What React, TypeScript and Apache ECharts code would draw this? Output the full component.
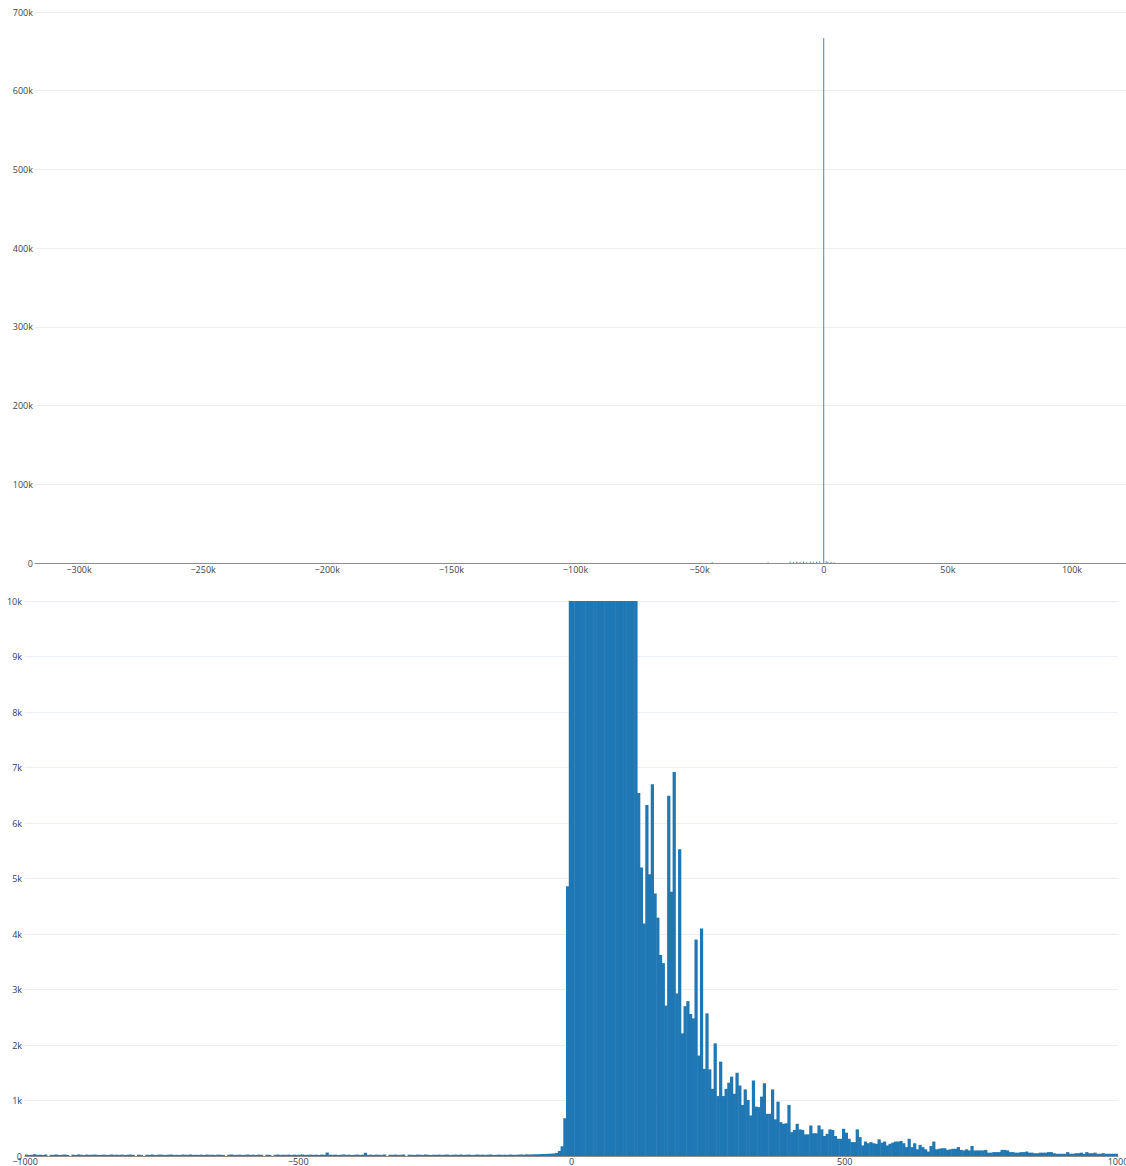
import React, { useEffect, useRef } from "react";
import * as echarts from "echarts";

// ---------- Top histogram (full range) ----------
const topBinWidth = 340;
const topBinLefts = [-45100, -22600, -13700, -12400, -11000, -9700, -8300, -7000, -5600, -4400, -3100, -1800, -170, 800, 1500, 2800, 4000];
const topCounts = [900, 1100, 1500, 1200, 1800, 1400, 1600, 1300, 1900, 1500, 1700, 2100, 667000, 2300, 1600, 1300, 1000];
const topXMin = -317724;
const topXMax = 121752;
const topYMax = 700000;

// ---------- Bottom histogram (zoomed -1000..1000) ----------
const bottomBinStart = -1000;
const bottomBinWidth = 5;
// bins from -1000 to -30
const bottomLowCounts = [
  25, 18, 22, 30, 20, 24, 19, 27, 0, 21,
  23, 26, 18, 22, 25, 20, 0, 24, 19, 28,
  22, 17, 25, 21, 23, 26, 20, 18, 24, 22,
  19, 27, 21, 23, 20, 25, 18, 22, 26, 21,
  0, 24, 19, 0, 23, 20, 27, 18, 22, 25,
  21, 19, 24, 26, 20, 22, 18, 25, 23, 21,
  27, 19, 22, 20, 24, 18, 26, 21, 23, 19,
  25, 22, 20, 0, 23, 27, 19, 21, 24, 18,
  22, 26, 20, 23, 19, 25, 21, 0, 24, 20,
  0, 22, 26, 19, 23, 21, 25, 18, 24, 20,
  23, 27, 19, 22, 25, 20, 24, 18, 26, 21,
  62, 23, 20, 25, 19, 22, 27, 21, 24, 18,
  22, 26, 20, 23, 58, 21, 25, 19, 24, 22,
  20, 27, 0, 23, 21, 25, 19, 22, 26, 0,
  24, 21, 19, 25, 23, 20, 27, 22, 18, 24,
  21, 25, 20, 23, 26, 19, 22, 24, 21, 27,
  20, 23, 25, 19, 22, 26, 21, 24, 20, 23,
  27, 19, 22, 25, 21, 24, 20, 26, 23, 22,
  25, 28, 24, 30, 27, 29, 32, 30, 34, 36,
  38, 40, 42, 45,
];
// bins from -30 to 125 (peak, partly above the 10k axis limit)
const bottomPeakCounts = [
  55, 90, 175, 680, 4860,
  27000, 31000, 30500, 29500, 28000, 27000, 26500, 25500, 25000, 24500,
  24000, 23500, 23000, 22500, 22000, 21500, 21000, 20500, 19500, 18500,
  17500, 16000, 14500, 13000, 11500,
];
// bins from 120 to 1000
const bottomTailCounts = [
  6540, 5200, 4190, 6325, 5075, 6700, 4730, 4295, 3620, 3475,
  2710, 6490, 4760, 6920, 2930, 5525, 2210, 2700, 2790, 2560,
  2480, 3900, 1810, 4100, 1570, 2570, 1560, 1210, 2030, 1080,
  1700, 1080, 1210, 1320, 1430, 1120, 1500, 1270, 920, 1200,
  1010, 730, 1360, 890, 880, 1070, 1310, 760, 760, 1200,
  660, 980, 610, 580, 590, 920, 430, 470, 580, 480,
  470, 390, 390, 550, 410, 410, 550, 480, 360, 400,
  480, 470, 360, 310, 310, 490, 420, 310, 250, 250,
  480, 340, 190, 260, 230, 250, 230, 220, 300, 240,
  260, 190, 220, 240, 260, 260, 270, 230, 160, 310,
  160, 230, 120, 200, 160, 120, 80, 180, 260, 120,
  130, 140, 140, 110, 120, 130, 130, 160, 110, 100,
  120, 100, 180, 100, 100, 100, 100, 110, 60, 60,
  70, 70, 70, 110, 110, 100, 70, 70, 60, 60,
  70, 70, 80, 60, 60, 50, 50, 60, 60, 60,
  70, 70, 50, 40, 40, 40, 40, 70, 40, 40,
  50, 50, 60, 40, 70, 50, 50, 60, 40, 40,
  50, 40, 40, 40, 40, 40,
];
const bottomXMin = -1000;
const bottomXMax = 1000;
const bottomYMax = 10000;

const BAR_COLOR = "#1f77b4";
const FONT = '"Open Sans", verdana, arial, sans-serif';

function kFormat(v: number): string {
  if (v === 0) return "0";
  const a = Math.abs(v);
  const s = a >= 1000 ? a / 1000 + "k" : String(a);
  return (v < 0 ? "\u2212" : "") + s;
}
function plainFormat(v: number): string {
  if (v === 0) return "0";
  return (v < 0 ? "\u2212" : "") + Math.abs(v);
}

function makeRenderer(overlap: number) {
  return (params: any, api: any) => {
    const x0 = api.value(0);
    const x1 = api.value(1);
    const y = api.value(2);
    const p0 = api.coord([x0, y]);
    const p1 = api.coord([x1, 0]);
    const cs = params.coordSys;
    const rect = echarts.graphic.clipRectByRect(
      { x: p0[0], y: p0[1], width: p1[0] - p0[0] + overlap, height: p1[1] - p0[1] },
      { x: cs.x, y: cs.y, width: cs.width, height: cs.height }
    );
    return rect && { type: "rect", shape: rect, style: { fill: BAR_COLOR } };
  };
}

export default function App() {
  const ref = useRef<HTMLDivElement>(null);
  useEffect(() => {
    if (!ref.current) return;
    const chart = echarts.init(ref.current, null, { renderer: "svg" });

    const topData = topBinLefts.map((l, k) => [l, l + topBinWidth, topCounts[k]]);
    const allBottom = [...bottomLowCounts, ...bottomPeakCounts, ...bottomTailCounts];
    const bottomData = allBottom
      .map((c, k) => [bottomBinStart + k * bottomBinWidth, bottomBinStart + (k + 1) * bottomBinWidth, c])
      .filter((d) => d[2] > 0);

    const labelTop = { color: "#444", fontSize: 9, fontFamily: FONT };
    const labelBottom = { color: "#2a3f5f", fontSize: 9, fontFamily: FONT };

    chart.setOption({
      animation: false,
      backgroundColor: "#fff",
      grid: [
        { left: 35, right: 0, top: 12, height: 551, containLabel: false, outerBoundsMode: "none" },
        { left: 25, right: 8, top: 601, height: 555, containLabel: false, outerBoundsMode: "none" },
      ],
      xAxis: [
        {
          type: "value",
          gridIndex: 0,
          min: topXMin,
          max: topXMax,
          splitNumber: 9,
          axisLine: { show: true, onZero: false, lineStyle: { color: "#8c8c8c", width: 1 } },
          axisTick: { show: false },
          splitLine: { show: false },
          axisLabel: { ...labelTop, margin: 2, showMinLabel: false, showMaxLabel: false, formatter: kFormat },
        },
        {
          type: "value",
          gridIndex: 1,
          min: bottomXMin,
          max: bottomXMax,
          interval: 500,
          axisLine: { show: true, onZero: false, lineStyle: { color: "#8c8c8c", width: 1 } },
          axisTick: { show: false },
          splitLine: { show: false },
          axisLabel: { ...labelBottom, margin: 1, formatter: plainFormat },
        },
      ],
      yAxis: [
        {
          type: "value",
          gridIndex: 0,
          min: 0,
          max: topYMax,
          interval: 100000,
          axisLine: { show: false },
          axisTick: { show: false },
          splitLine: { show: true, lineStyle: { color: "#eeeeee", width: 1 } },
          axisLabel: { ...labelTop, margin: 2, formatter: kFormat },
        },
        {
          type: "value",
          gridIndex: 1,
          min: 0,
          max: bottomYMax,
          interval: 1000,
          axisLine: { show: false },
          axisTick: { show: false },
          splitLine: { show: true, lineStyle: { color: "#ebf0f8", width: 1 } },
          axisLabel: { ...labelBottom, margin: 3, formatter: kFormat },
        },
      ],
      series: [
        {
          type: "custom",
          xAxisIndex: 0,
          yAxisIndex: 0,
          renderItem: makeRenderer(0),
          encode: { x: [0, 1], y: 2 },
          data: topData,
          z: 5,
        },
        {
          type: "custom",
          xAxisIndex: 1,
          yAxisIndex: 1,
          renderItem: makeRenderer(0.5),
          encode: { x: [0, 1], y: 2 },
          data: bottomData,
          z: 5,
        },
      ],
    });
    return () => chart.dispose();
  }, []);

  return (
    <div
      ref={ref}
      style={{ position: "absolute", left: 0, top: 0, width: 1126, height: 1166 }}
    />
  );
}
